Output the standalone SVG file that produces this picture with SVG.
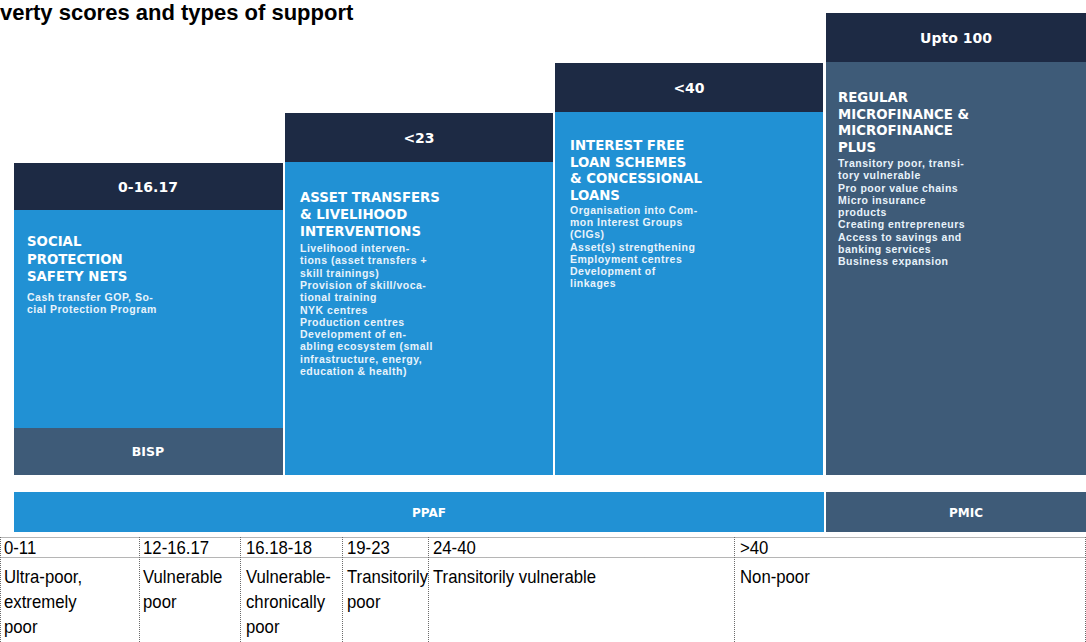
<svg xmlns="http://www.w3.org/2000/svg" width="1086" height="642" viewBox="0 0 1086 642">
<style>
.hdr{fill:#1d2a44}
.blue{fill:#2191d4}
.slate{fill:#3e5b78}
.ht{font-family:"DejaVu Sans","Open Sans",sans-serif;font-weight:bold;font-size:14px;fill:#ffffff;text-anchor:middle}
.tt{font-family:"DejaVu Sans","Open Sans",sans-serif;font-weight:bold;font-size:13.3px;fill:#ffffff}
.bt{font-family:"Liberation Sans",Arial,sans-serif;font-weight:bold;font-size:10.5px;letter-spacing:0.5px;fill:#e8f3fb}
.bar{font-family:"DejaVu Sans","Open Sans",sans-serif;font-weight:bold;font-size:12px;fill:#ffffff;text-anchor:middle}
.tbl{font-family:"Liberation Sans",Arial,sans-serif;font-size:18px;fill:#000000}
.grid{stroke:#6b6b6b;stroke-width:1;stroke-dasharray:1 1;fill:none}
.title{font-family:"Liberation Sans",Arial,sans-serif;font-weight:bold;font-size:22px;fill:#000000}
</style>
<rect width="1086" height="642" fill="#ffffff"/>
<text class="title" x="0" y="20">verty scores and types of support</text>

<g id="col1">
<rect class="blue" x="14" y="163" width="269" height="265"/>
<rect class="hdr" x="14" y="163" width="269" height="47"/>
<rect class="slate" x="14" y="428" width="269" height="47"/>
<text class="ht" x="148" y="191.5">0-16.17</text>
<text class="tt" x="27" y="246"><tspan x="27">SOCIAL</tspan><tspan x="27" dy="17.5">PROTECTION</tspan><tspan x="27" dy="17.5">SAFETY NETS</tspan></text>
<text class="bt" x="27" y="301"><tspan x="27">Cash transfer GOP, So-</tspan><tspan x="27" dy="12.3">cial Protection Program</tspan></text>
<text class="ht" x="148" y="456" style="font-size:12.5px">BISP</text>
</g>

<g id="col2">
<rect class="blue" x="285" y="113" width="268" height="362"/>
<rect class="hdr" x="285" y="113" width="268" height="49"/>
<text class="ht" x="419" y="142.5">&lt;23</text>
<text class="tt" x="300" y="202"><tspan x="300">ASSET TRANSFERS</tspan><tspan x="300" dy="17">&amp; LIVELIHOOD</tspan><tspan x="300" dy="17">INTERVENTIONS</tspan></text>
<text class="bt" x="300" y="252"><tspan x="300">Livelihood interven-</tspan><tspan x="300" dy="12.3">tions (asset transfers +</tspan><tspan x="300" dy="12.3">skill trainings)</tspan><tspan x="300" dy="12.3">Provision of skill/voca-</tspan><tspan x="300" dy="12.3">tional training</tspan><tspan x="300" dy="12.3">NYK centres</tspan><tspan x="300" dy="12.3">Production centres</tspan><tspan x="300" dy="12.3">Development of en-</tspan><tspan x="300" dy="12.3">abling ecosystem (small</tspan><tspan x="300" dy="12.3">infrastructure, energy,</tspan><tspan x="300" dy="12.3">education &amp; health)</tspan></text>
</g>

<g id="col3">
<rect class="blue" x="555" y="63" width="268" height="412"/>
<rect class="hdr" x="555" y="63" width="268" height="49"/>
<text class="ht" x="689" y="92.5">&lt;40</text>
<text class="tt" x="570" y="150"><tspan x="570">INTEREST FREE</tspan><tspan x="570" dy="16.6">LOAN SCHEMES</tspan><tspan x="570" dy="16.6">&amp; CONCESSIONAL</tspan><tspan x="570" dy="16.6">LOANS</tspan></text>
<text class="bt" x="570" y="214"><tspan x="570">Organisation into Com-</tspan><tspan x="570" dy="12.2">mon Interest Groups</tspan><tspan x="570" dy="12.2">(CIGs)</tspan><tspan x="570" dy="12.2">Asset(s) strengthening</tspan><tspan x="570" dy="12.2">Employment centres</tspan><tspan x="570" dy="12.2">Development of</tspan><tspan x="570" dy="12.2">linkages</tspan></text>
</g>

<g id="col4">
<rect class="slate" x="826" y="13" width="260" height="462"/>
<rect class="hdr" x="826" y="13" width="260" height="49"/>
<text class="ht" x="956" y="42.5">Upto 100</text>
<text class="tt" x="838" y="102"><tspan x="838">REGULAR</tspan><tspan x="838" dy="16.7">MICROFINANCE &amp;</tspan><tspan x="838" dy="16.7">MICROFINANCE</tspan><tspan x="838" dy="16.7">PLUS</tspan></text>
<text class="bt" x="838" y="167"><tspan x="838">Transitory poor, transi-</tspan><tspan x="838" dy="12.25">tory vulnerable</tspan><tspan x="838" dy="12.25">Pro poor value chains</tspan><tspan x="838" dy="12.25">Micro insurance</tspan><tspan x="838" dy="12.25">products</tspan><tspan x="838" dy="12.25">Creating entrepreneurs</tspan><tspan x="838" dy="12.25">Access to savings and</tspan><tspan x="838" dy="12.25">banking services</tspan><tspan x="838" dy="12.25">Business expansion</tspan></text>
</g>

<g id="ppaf">
<rect class="blue" x="14" y="492" width="810" height="40"/>
<text class="bar" x="429" y="516.5">PPAF</text>
</g>
<g id="pmic">
<rect class="slate" x="826" y="492" width="260" height="40"/>
<text class="bar" x="966" y="516.5">PMIC</text>
</g>

<g id="table">
<path class="grid" d="M0.5 537.5H1085.5M0.5 557.5H1085.5M0.5 537V642M139.5 537V642M240.5 537V642M342.5 537V642M428.5 537V642M734.5 537V642M1085.5 537V642"/>
<g transform="scale(0.93,1)">
<text class="tbl" x="4.3" y="554">0-11</text>
<text class="tbl" x="153.8" y="554">12-16.17</text>
<text class="tbl" x="264.5" y="554">16.18-18</text>
<text class="tbl" x="373.1" y="554">19-23</text>
<text class="tbl" x="465.6" y="554">24-40</text>
<text class="tbl" x="795.7" y="554">&gt;40</text>
<text class="tbl" x="4.3" y="583"><tspan x="4.3">Ultra-poor,</tspan><tspan x="4.3" dy="25">extremely</tspan><tspan x="4.3" dy="25">poor</tspan></text>
<text class="tbl" x="153.8" y="583"><tspan x="153.8">Vulnerable</tspan><tspan x="153.8" dy="25">poor</tspan></text>
<text class="tbl" x="264.5" y="583"><tspan x="264.5">Vulnerable-</tspan><tspan x="264.5" dy="25">chronically</tspan><tspan x="264.5" dy="25">poor</tspan></text>
<text class="tbl" x="373.1" y="583"><tspan x="373.1">Transitorily</tspan><tspan x="373.1" dy="25">poor</tspan></text>
<text class="tbl" x="465.6" y="583">Transitorily vulnerable</text>
<text class="tbl" x="795.7" y="583">Non-poor</text>
</g>
</g>
</svg>
